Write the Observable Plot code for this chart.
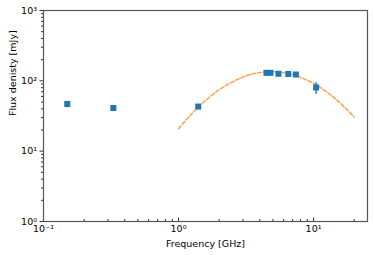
<!DOCTYPE html>
<html>
<head>
<meta charset="utf-8">
<script src="https://cdn.jsdelivr.net/npm/d3@7"></script>
<script src="https://cdn.jsdelivr.net/npm/@observablehq/plot@0.6"></script>
<style>
  html, body { margin: 0; padding: 0; background: #fff; }
  svg { display: block; }
</style>
</head>
<body>
<div id="chart"></div>
<script>
// Measured data points
const freq = [0.15, 0.329, 1.4, 4.48, 4.8, 5.5, 6.5, 7.4, 10.45];
const flux = [46.9, 41.1, 43.1, 130, 130, 126, 125, 123, 80.5];
const fluxLo = [43.5, 39.0, 40.8, 125, 125, 121, 120, 118, 64.6];
const fluxHi = [50.3, 43.2, 45.4, 135, 135, 131, 130, 128, 93.6];

// Fitted curve
const fitFreq = [1, 1.2, 1.5, 2, 2.5, 3, 3.5, 4, 4.5, 5, 6, 7, 8, 10, 12, 15, 20];
const fitFlux = [20.9, 31, 48, 74.8, 96, 113, 125, 131, 134, 135, 131, 123, 112, 92, 73.8, 52.8, 30.7];

const xMajor = [0.1, 1, 10];
const xMajorLabels = ["10\u207B\u00B9", "10\u2070", "10\u00B9"];
const yMajor = [1, 10, 100, 1000];
const yMajorLabels = ["10\u2070", "10\u00B9", "10\u00B2", "10\u00B3"];

const xMinor = [];
for (const base of [0.1, 1, 10]) for (let m = 2; m <= 9; m++) if (base * m <= 25) xMinor.push(base * m);
const yMinor = [];
for (const base of [1, 10, 100]) for (let m = 2; m <= 9; m++) yMinor.push(base * m);

const points = freq.map((f, i) => ({f, s: flux[i], lo: fluxLo[i], hi: fluxHi[i]}));
const fit = fitFreq.map((f, i) => ({f, s: fitFlux[i]}));

const blue = "#1f77b4";
const orange = "#ff7f0e";

const chart = Plot.plot({
  width: 374,
  height: 255,
  marginLeft: 43,
  marginRight: 7,
  marginTop: 10,
  marginBottom: 34,
  style: {fontFamily: "DejaVu Sans", fontSize: "9.5px", color: "#000", background: "#fff"},
  x: {type: "log", domain: [0.1, 25.1]},
  y: {type: "log", domain: [1, 1000]},
  marks: [
    Plot.line(fit, {x: "f", y: "s", curve: "catmull-rom", stroke: orange, strokeOpacity: 0.75, strokeWidth: 1.5, strokeDasharray: "3.8,2"}),
    Plot.ruleX(points, {x: "f", y1: "lo", y2: "hi", stroke: blue, strokeWidth: 1.4}),
    Plot.dot(points, {x: "f", y: "s", symbol: "square", r: 3.4, fill: blue, stroke: "none"}),
    // y axis
    Plot.axisY({ticks: yMajor, tickSize: 3.5, tickPadding: 3, tickFormat: (d) => yMajorLabels[yMajor.indexOf(d)], label: null, fontSize: 9.5, stroke: "#333"}),
    Plot.axisY({ticks: yMinor, tickSize: 2, text: null, label: null, stroke: "#333"}),
    // x axis (ticks drawn inward)
    Plot.axisX({ticks: xMajor, tickSize: 3.5, dy: -3.5, text: null, label: null, stroke: "#333"}),
    Plot.axisX({ticks: xMinor, tickSize: 2, dy: -2, text: null, label: null, stroke: "#333"}),
    Plot.axisX({ticks: xMajor, tickSize: 0, tickPadding: 4, tickFormat: (d) => xMajorLabels[xMajor.indexOf(d)], label: null, fontSize: 9.5}),
    Plot.frame({stroke: "#555", strokeWidth: 1.2}),
    Plot.text(["Frequency [GHz]"], {frameAnchor: "bottom", dy: 25, text: (d) => d, fontSize: 9.5, fill: "#000"}),
    Plot.text(["Flux denisty [mJy]"], {frameAnchor: "left", dx: -31, rotate: -90, text: (d) => d, fontSize: 9.5, fill: "#000"})
  ]
});

document.getElementById("chart").appendChild(chart);
</script>
</body>
</html>
